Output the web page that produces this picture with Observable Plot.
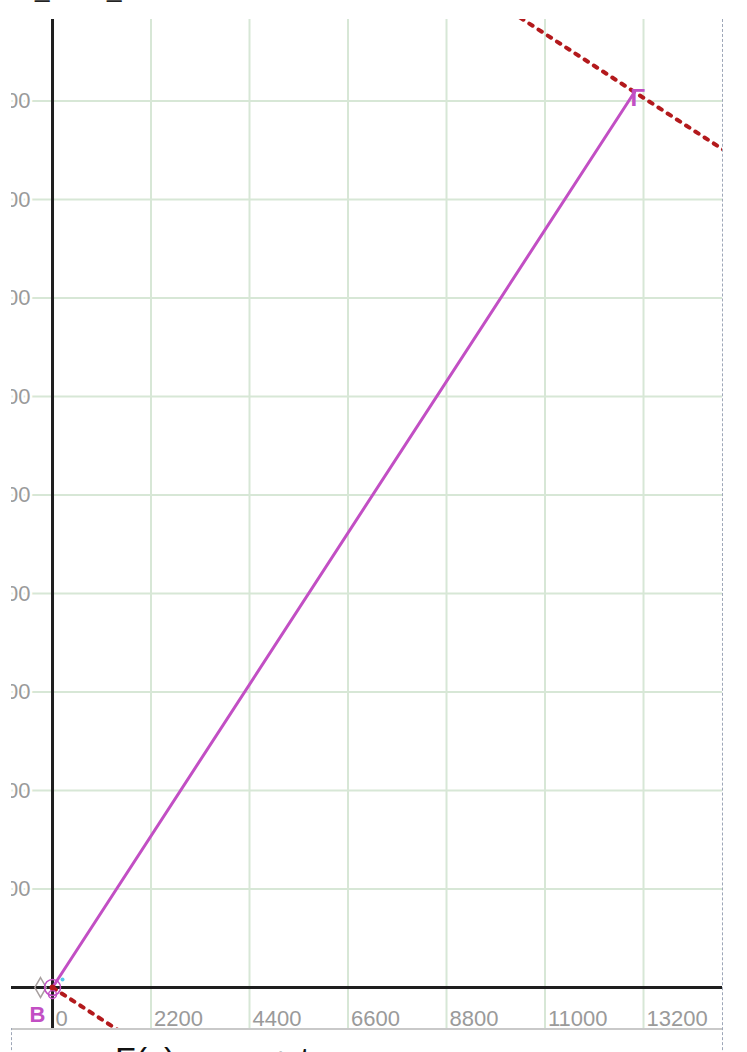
<!DOCTYPE html>
<html>
<head>
<meta charset="utf-8">
<script src="https://cdn.jsdelivr.net/npm/d3@7"></script>
<script src="https://cdn.jsdelivr.net/npm/@observablehq/plot@0.6"></script>
<style>
  html, body { margin: 0; padding: 0; background: #fff; }
  body { width: 747px; height: 1052px; overflow: hidden; position: relative; font-family: "Liberation Sans", Arial, sans-serif; }
  #frame { position: absolute; left: 11px; top: 19px; width: 710px; height: 1100px; border: 1px dashed #9ea7b8; border-bottom: none; }
  #chart { position: absolute; left: -1px; top: -1px; width: 711px; height: 1009px; overflow: hidden; }
  #sep { position: absolute; left: 0; top: 1008px; width: 710px; height: 2px; background: #c9c9c9; }
  #formula { position: absolute; left: 103px; top: 1020px; font-size: 34px; color: #111; white-space: pre; }
  .topmark { position: absolute; top: -27px; font-size: 26px; color: #222; }
</style>
</head>
<body>
<span class="topmark" style="left:35px">_</span>
<span class="topmark" style="left:107px">_</span>
<div id="frame">
  <div id="chart"></div>
  <div id="sep"></div>
  <div id="formula">F(x) = a·x + t</div>
</div>
<script>
// Tick values
const xTicks = [0, 2200, 4400, 6600, 8800, 11000, 13200];
const yTicks = [2200, 4400, 6600, 8800, 11000, 13200, 15400, 17600, 19800];

// Segment from A (origin) to B
const segment = [{x: 0, y: 0}, {x: 13000, y: 20000}];

// Perpendicular line (slope -0.65) through the end point, and a ray from the origin
const perpEnd = [{x: 9000, y: 22600}, {x: 16000, y: 18050}];
const perpStart = [{x: 0, y: 0}, {x: 3000, y: -1950}];

const origin = [{x: 0, y: 0}];
const endPoint = [segment[1]];

const magenta = "#c24fc4";
const darkRed = "#b3191c";
const gridColor = "#d7e7d6";
const labelColor = "#9a9a9a";

const chart = Plot.plot({
  width: 711,
  height: 1009,
  margin: 0,
  style: { background: "white", overflow: "hidden", fontFamily: "Liberation Sans, Arial, sans-serif" },
  x: { domain: [-916, 14964], axis: null },
  y: { domain: [-916, 21620], axis: null },
  marks: [
    Plot.ruleX(xTicks.slice(1), { x: d => d, stroke: gridColor, strokeWidth: 2 }),
    Plot.ruleY(yTicks, { y: d => d, stroke: gridColor, strokeWidth: 2 }),
    Plot.text(yTicks, {
      x: () => 0, y: d => d, text: d => String(d),
      textAnchor: "end", dx: -22, fontSize: 22, fill: labelColor,
      stroke: "white", strokeWidth: 5
    }),
    Plot.ruleY([0], { y: d => d, stroke: "#1e1e1e", strokeWidth: 3 }),
    Plot.ruleX([0], { x: d => d, stroke: "#1e1e1e", strokeWidth: 3 }),
    Plot.text(xTicks, {
      x: d => d, y: () => 0, text: d => String(d),
      textAnchor: "start", dx: 3, dy: 31, fontSize: 22, fill: labelColor
    }),
    Plot.line(perpEnd, { x: "x", y: "y", stroke: darkRed, strokeWidth: 4, strokeDasharray: "4,7", clip: true }),
    Plot.line(perpStart, { x: "x", y: "y", stroke: darkRed, strokeWidth: 4, strokeDasharray: "4,7", clip: true }),
    Plot.line(segment, { x: "x", y: "y", stroke: magenta, strokeWidth: 3 }),
    // origin point decorations
    Plot.dot(origin, { x: "x", y: "y", symbol: "diamond", r: 6, stroke: "#a8a0a0", strokeWidth: 1.5, dx: -12 }),
    Plot.dot(origin, { x: "x", y: "y", r: 8, stroke: magenta, strokeWidth: 1.5, fill: "none" }),
    Plot.dot(origin, { x: "x", y: "y", r: 4, stroke: magenta, strokeWidth: 1.5, fill: "none", dy: 7 }),
    Plot.dot(origin, { x: "x", y: "y", r: 3, fill: darkRed }),
    Plot.dot(origin, { x: "x", y: "y", r: 2, fill: "#58c8ea", dx: 10, dy: -8 }),
    Plot.text(origin, { x: "x", y: "y", text: () => "B", fill: magenta, fontSize: 22, fontWeight: "bold", dx: -15, dy: 27 }),
    // endpoint marker
    Plot.text(endPoint, { x: "x", y: "y", text: () => "Γ", fill: magenta, fontSize: 24, fontWeight: "bold", textAnchor: "start", lineAnchor: "top", dx: -4, dy: -3 })
  ]
});
document.getElementById("chart").appendChild(chart);
</script>
</body>
</html>
